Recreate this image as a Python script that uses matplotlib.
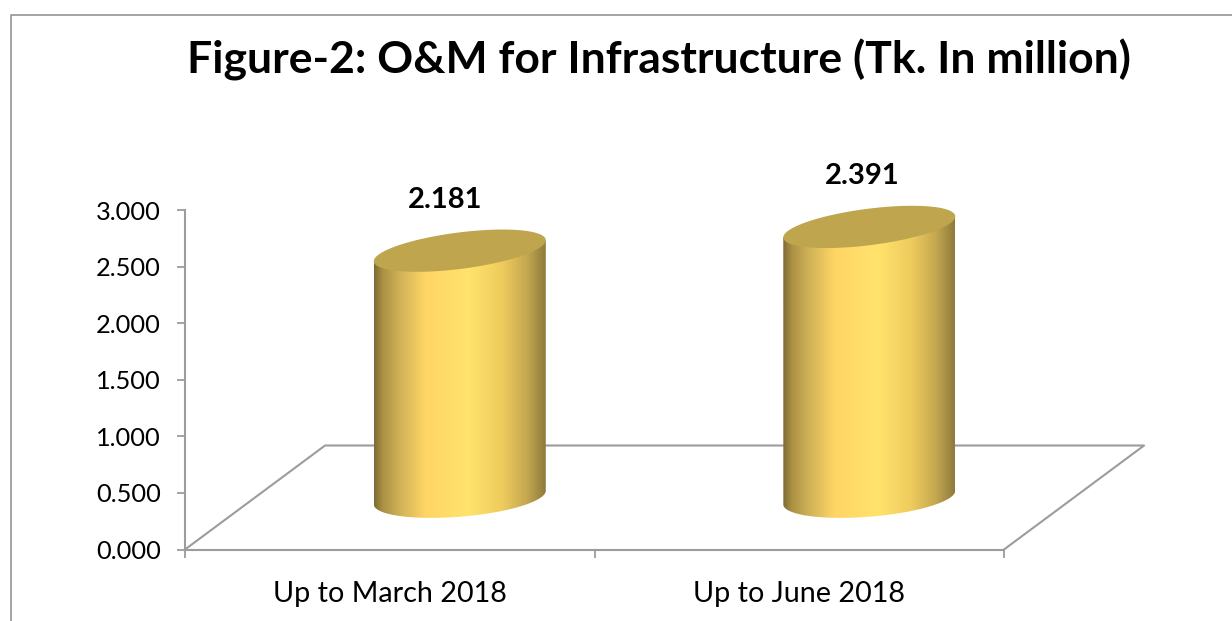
import matplotlib
matplotlib.use('Agg')
import matplotlib.pyplot as plt
import numpy as np
from matplotlib.colors import LinearSegmentedColormap
from matplotlib.lines import Line2D
from matplotlib.path import Path
from matplotlib.patches import Polygon

plt.rcParams['font.family'] = ['Lato', 'DejaVu Sans']

categories = ['Up to March 2018', 'Up to June 2018']
values = [2.181, 2.391]
value_labels = ['2.181', '2.391']
y_ticks = [0.0, 0.5, 1.0, 1.5, 2.0, 2.5, 3.0]
title = 'Figure-2: O&M for Infrastructure (Tk. In million)'

W, H = 1232, 621
GRAY = '#9c9c9c'

# fake 3d floor / cylinder shape, in axis units
DEPTH_X = 0.342
DEPTH_Y = 0.919
HALF_W = 0.21
ELL_H = 0.162
TOP_TILT = 0.093
BASE_H = 0.17
BASE_TILT = 0.06
LABEL_DX = [-15, -7]

shade = LinearSegmentedColormap.from_list('cyl', [
    (0.0, '#7f6a35'), (0.05, '#ab9145'), (0.15, '#d0b257'), (0.3, '#ffd566'), (0.55, '#ffe36c'),
    (0.75, '#eecb5d'), (0.89, '#c4a850'), (1.0, '#8f7a3c')])

fig = plt.figure(figsize=(W / 100, H / 100), dpi=100)
ax = fig.add_axes([185 / W, 1 - 549.5 / H, 819 / W, 339.5 / H])
ax.set_xlim(-0.5, 1.5)
ax.set_ylim(0, 3)

# chart border
fig.add_artist(Line2D([11 / W, 11 / W, 1], [0, 1 - 14.5 / H, 1 - 14.5 / H], color=GRAY, lw=1.3))

# floor
ax.plot([-0.5, -0.5 + DEPTH_X, 1.5 + DEPTH_X, 1.5], [0, DEPTH_Y, DEPTH_Y, 0],
        color=GRAY, lw=1.5, clip_on=False, zorder=1)

t = np.linspace(0, 2 * np.pi, 181)
for i, val in enumerate(values):
    cx = i + DEPTH_X / 2
    base = DEPTH_Y / 2
    top = base + val
    ex = HALF_W * np.cos(t)
    ey = ELL_H * np.sin(t) + TOP_TILT * np.cos(t)
    by = BASE_H * np.sin(t) + BASE_TILT * np.cos(t)

    # side: lower half of the base ellipse then up to the top
    low = np.sin(t) <= 0
    order = np.argsort(ex[low])
    xs = np.concatenate([cx + ex[low][order], [cx + HALF_W, cx - HALF_W]])
    ys = np.concatenate([base + by[low][order], [top + TOP_TILT, top - TOP_TILT]])
    im = ax.imshow(np.linspace(0, 1, 256).reshape(1, -1), cmap=shade, aspect='auto',
                   extent=[cx - HALF_W, cx + HALF_W, base - 0.3, top + 0.3], zorder=2)
    im.set_clip_box(fig.bbox)
    im.set_clip_path(Path(np.column_stack([xs, ys])), ax.transData)

    ax.add_patch(Polygon(np.column_stack([cx + ex, top + ey]), closed=True, fc='#c0a54f',
                         ec='none', clip_on=False, zorder=3))
    ax.annotate(value_labels[i], (cx, top), xytext=(LABEL_DX[i], 51), textcoords='offset pixels',
                ha='center', va='center', fontsize=21, fontweight='bold', color='black',
                annotation_clip=False)

ax.set_xlim(-0.5, 1.5)
ax.set_ylim(0, 3)

ax.patch.set_visible(False)
for side in ['top', 'right']:
    ax.spines[side].set_visible(False)
for side in ['left', 'bottom']:
    ax.spines[side].set_color(GRAY)
    ax.spines[side].set_linewidth(1.5)

ax.set_yticks(y_ticks)
ax.set_yticklabels([f'{v:.3f}' for v in y_ticks])
ax.set_xticks([-0.5, 0.5, 1.5])
ax.set_xticklabels([])
ax.set_xticks([0, 1], labels=categories, minor=True)
ax.tick_params(axis='x', which='major', length=6, width=1.3, color=GRAY)
ax.tick_params(axis='x', which='minor', length=0, pad=22.5, labelsize=20.7)
ax.tick_params(axis='y', length=6, width=1.3, color=GRAY, pad=11.5, labelsize=18.3)

fig.text(659 / W, 1 - 60 / H, title, ha='center', va='center', fontsize=32, fontweight='bold')

fig.savefig('out.png', dpi=100)
